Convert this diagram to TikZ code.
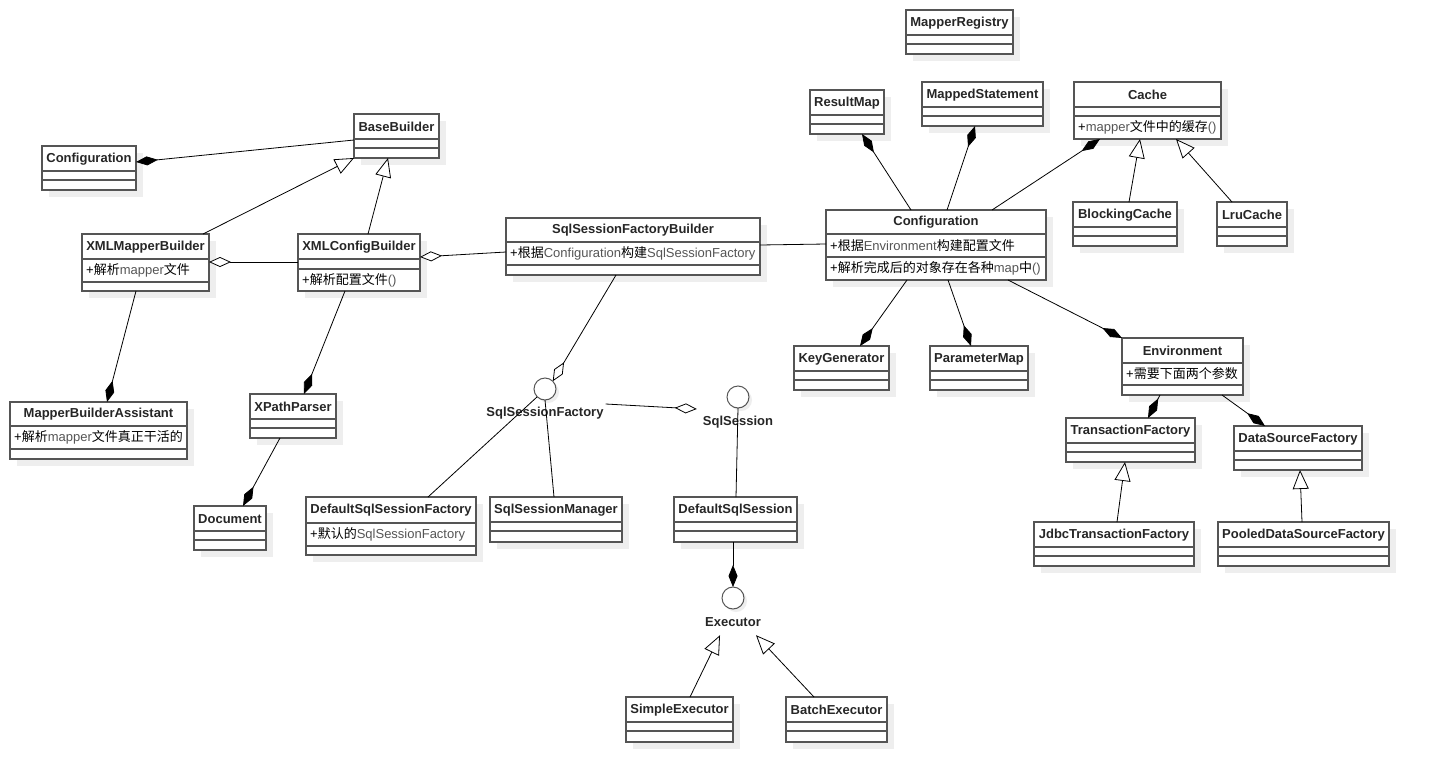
\documentclass[tikz,border=0pt]{standalone}
\usepackage{fontspec}
\setmainfont{Liberation Sans}
\newfontfamily\cjkfont{Noto Sans CJK SC}
\usetikzlibrary{arrows.meta,calc}
\definecolor{latgray}{HTML}{555555}
\definecolor{boxline}{HTML}{555555}
\definecolor{shadowc}{HTML}{EEEEEE}
\newcommand\zh[1]{{\cjkfont #1}}
\newcommand\lat[1]{\textcolor{latgray}{#1}}
\tikzset{
  classbox/.style={draw=boxline, line width=1.2pt, fill=white, inner sep=0pt, outer sep=0pt},
  divider/.style={draw=boxline, line width=1.2pt},
  shadowbox/.style={fill=shadowc},
  ctitle/.style={font=\fontsize{13pt}{15pt}\selectfont\bfseries, text=black!85, inner sep=0pt},
  member/.style={font=\fontsize{13pt}{15pt}\selectfont, anchor=west, inner sep=0pt},
  iface/.style={circle, draw=boxline, line width=1pt, fill=white, minimum size=22pt, inner sep=0pt, outer sep=0pt},
  ilabel/.style={font=\fontsize{13pt}{15pt}\selectfont\bfseries, text=black!85, inner sep=0pt},
  conn/.style={draw=black, line width=0.8pt},
  umlcomp/.style={conn, -{Diamond[length=22pt,width=9pt]}},
  umlagg/.style={conn, -{Diamond[length=22pt,width=10pt,fill=white]}},
  umlinh/.style={conn, -{Triangle[length=19pt,width=16pt,fill=white]}},
}
\newcommand\umlbox[8]{%
  \fill[shadowbox] (#2+7,#3+7) rectangle (#4+7,#5+7);
  \pgfmathsetmacro\bw{#4-#2}\pgfmathsetmacro\bh{#5-#3}%
  \node[classbox, anchor=north west, minimum width=\bw pt, minimum height=\bh pt] (#1) at (#2,#3) {};
  \draw[divider] (#2,#6) -- (#4,#6);
  \draw[divider] (#2,#7) -- (#4,#7);
  \node[ctitle] (#1-t) at ({(#2+#4)/2},{(#3+#6)/2+0.5}) {#8};
}
\newcommand\simplebox[6]{%
  \pgfmathsetmacro\da{#3+25}\pgfmathsetmacro\db{#3+34}%
  \umlbox{#1}{#2}{#3}{#4}{#5}{\da}{\db}{#6}%
}
\begin{document}
\begin{tikzpicture}[x=1pt,y=-1pt]
\fill[white] (0,0) rectangle (1429,782);
\useasboundingbox (0,0) rectangle (1429,782);

% ---------- left part ----------
\simplebox{confL}{42}{146}{136}{190}{Configuration}
\simplebox{bb}{354}{114}{439}{158}{BaseBuilder}
\umlbox{xmb}{82}{234}{209}{291}{259}{282}{XMLMapperBuilder}
\node[member] (xmb-a) at (86,270.5) {+\zh{解析}\lat{mapper}\zh{文件}};
\umlbox{xcb}{298}{234}{420}{291}{259}{269}{XMLConfigBuilder}
\node[member] (xcb-m) at (302,280) {+\zh{解析配置文件}\lat{()}};
\umlbox{mba}{10}{402}{187}{459}{426}{449}{MapperBuilderAssistant}
\node[member] (mba-a) at (14,437.5) {+\zh{解析}\lat{mapper}\zh{文件真正干活的}};
\simplebox{xpp}{250}{394}{336}{438}{XPathParser}
\simplebox{doc}{194}{506}{266}{550}{Document}

% ---------- middle part ----------
\umlbox{sfb}{506}{218}{760}{275}{242}{265}{SqlSessionFactoryBuilder}
\node[member] (sfb-a) at (510,253.5) {+\zh{根据}\lat{Configuration}\zh{构建}\lat{SqlSessionFactory}};
\umlbox{dsf}{306}{497}{476}{555}{523}{546}{DefaultSqlSessionFactory}
\node[member] (dsf-a) at (310,534.5) {+\zh{默认的}\lat{SqlSessionFactory}};
\simplebox{ssm}{490}{497}{622}{542}{SqlSessionManager}
\simplebox{dss}{674}{497}{797}{542}{DefaultSqlSession}
\simplebox{se}{626}{697}{733}{742}{SimpleExecutor}
\simplebox{be}{786}{697}{887}{742}{BatchExecutor}

\fill[shadowc] (548,392) circle (11pt);
\node[iface] (sqf) at (545,389) {};
\node[ilabel] (sqf-l) at (545,413) {SqlSessionFactory};
\fill[shadowc] (741,400) circle (11pt);
\node[iface] (ss) at (738,397) {};
\node[ilabel] (ss-l) at (738,422) {SqlSession};
\fill[shadowc] (736,601) circle (11pt);
\node[iface] (exe) at (733,598) {};
\node[ilabel, minimum height=26pt] (exe-l) at (733,622) {Executor};

% ---------- right part ----------
\simplebox{mreg}{906}{10}{1013}{54}{MapperRegistry}
\simplebox{resmap}{810}{90}{884}{134}{ResultMap}
\simplebox{mst}{922}{82}{1043}{126}{MappedStatement}
\umlbox{cache}{1074}{82}{1221}{139}{107}{116}{Cache}
\node[member] (cache-m) at (1078,127.5) {+\lat{mapper}\zh{文件中的缓存}\lat{()}};
\simplebox{bcache}{1073}{202}{1177}{246}{BlockingCache}
\simplebox{lru}{1217}{202}{1287}{246}{LruCache}
\umlbox{conf}{826}{210}{1046}{280}{234}{257}{Configuration}
\node[member] (conf-a) at (830,245.5) {+\zh{根据}\lat{Environment}\zh{构建配置文件}};
\node[member] (conf-m) at (830,268.5) {+\zh{解析完成后的对象存在各种}\lat{map}\zh{中}\lat{()}};
\simplebox{keygen}{794}{346}{889}{390}{KeyGenerator}
\simplebox{pmap}{930}{346}{1028}{390}{ParameterMap}
\umlbox{env}{1122}{338}{1243}{395}{363}{385}{Environment}
\node[member] (env-a) at (1126,374) {+\zh{需要下面两个参数}};
\simplebox{tf}{1066}{418}{1195}{462}{TransactionFactory}
\simplebox{dsfac}{1234}{426}{1362}{470}{DataSourceFactory}
\simplebox{jtf}{1034}{522}{1194}{566}{JdbcTransactionFactory}
\simplebox{pdsf}{1218}{522}{1389}{566}{PooledDataSourceFactory}

% ---------- connectors: left ----------
\draw[umlcomp] (bb.west |- 0,140) -- (confL.east |- 0,162);
\draw[umlinh] (xmb.north -| 203,0) -- (bb.south west);
\draw[umlinh] (xcb.north -| 368,0) -- (bb.south -| 388,0);
\draw[umlagg] (xcb.west |- 0,262) -- (xmb.east |- 0,262);
\draw[umlagg] (sfb.west |- 0,252) -- (xcb.east |- 0,257);
\draw[umlcomp] (xmb.south -| 136,0) -- (mba.north -| 107,0);
\draw[umlcomp] (xcb.south -| 345,0) -- (xpp.north -| 304,0);
\draw[umlcomp] (xpp.south -| 280,0) -- (doc.north -| 243,0);

% ---------- connectors: middle ----------
\draw[conn] (sfb.east |- 0,245) -- (conf.west |- 0,244);
\draw[umlagg] (sfb.south -| 616,0) -- (sqf.north east);
\draw[umlagg] ($(sqf-l.east)+(2,-9)$) -- ($(ss-l.west)+(-6,-13)$);
\draw[conn] (sqf.south west) -- (dsf.north -| 428,0);
\draw[conn] (sqf.south) -- (ssm.north -| 554,0);
\draw[conn] (ss.south) -- (dss.north -| 736,0);
\draw[umlcomp] (dss.south -| exe) -- (exe.north);
\draw[umlinh] (se.north -| 690,0) -- (exe-l.south -| 720,0);
\draw[umlinh] (be.north -| 814,0) -- (exe-l.south -| 756,0);

% ---------- connectors: right ----------
\draw[umlcomp] (conf.north -| 911,0) -- (resmap.south -| 862,0);
\draw[umlcomp] (conf.north -| 947,0) -- (mst.south -| 975,0);
\draw[umlcomp] (conf.north -| 992,0) -- (cache.south -| 1100,0);
\draw[umlinh] (bcache.north -| 1129,0) -- (cache.south -| 1140,0);
\draw[umlinh] (lru.north -| 1232,0) -- (cache.south -| 1176,0);
\draw[umlcomp] (conf.south -| 907,0) -- (keygen.north -| 860,0);
\draw[umlcomp] (conf.south -| 948,0) -- (pmap.north -| 971,0);
\draw[umlcomp] (conf.south -| 1008,0) -- (env.north west);
\draw[umlcomp] (env.south -| 1160,0) -- (tf.north -| 1148,0);
\draw[umlcomp] (env.south -| 1222,0) -- (dsfac.north -| 1265,0);
\draw[umlinh] (jtf.north -| 1117,0) -- (tf.south -| 1125,0);
\draw[umlinh] (pdsf.north -| 1302,0) -- (dsfac.south -| 1300,0);
\end{tikzpicture}
\end{document}
